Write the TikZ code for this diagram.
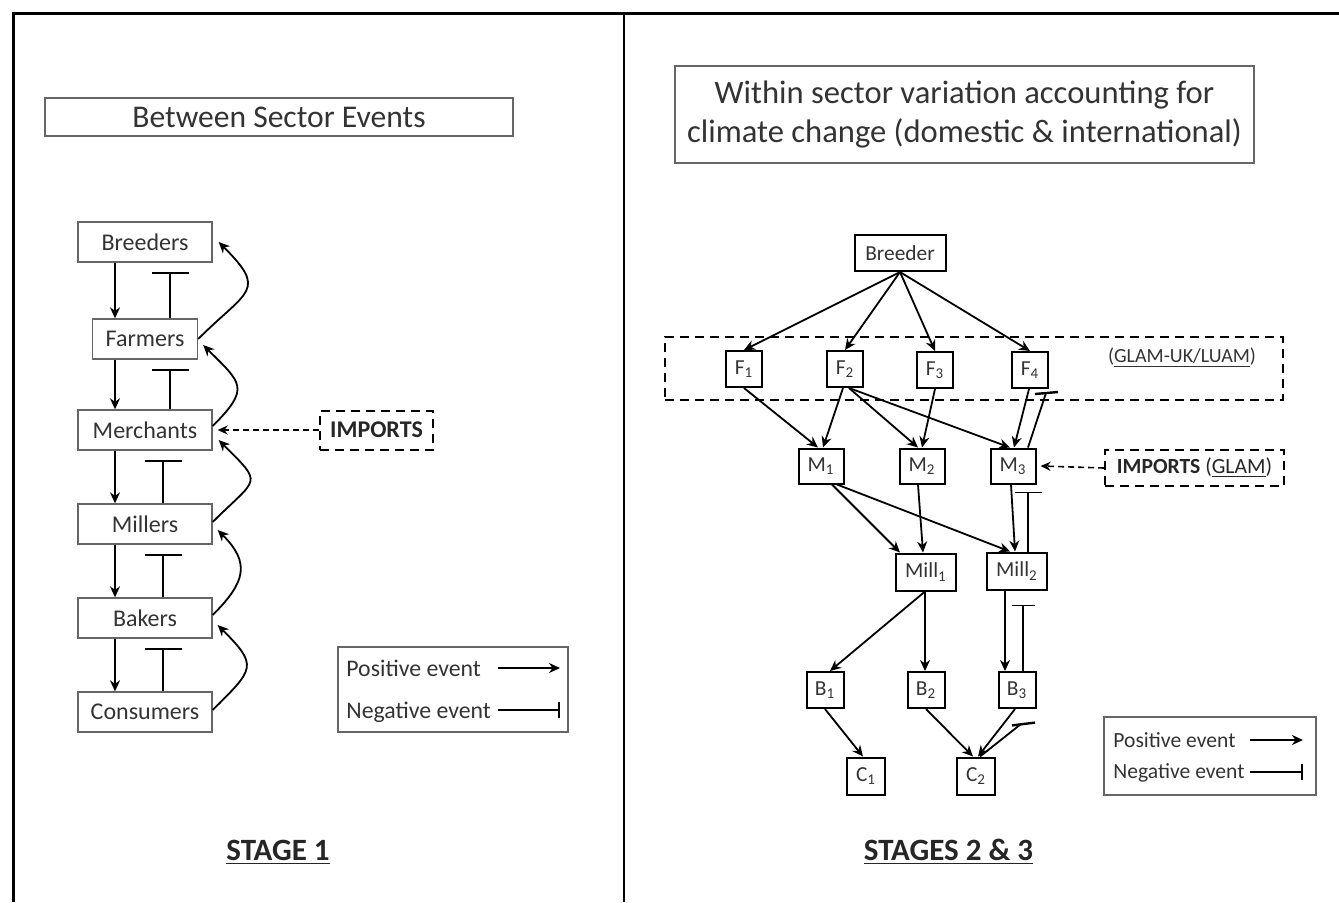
\documentclass[tikz,border=0pt]{standalone}
\usepackage{fontspec}
\setmainfont{Carlito}
\usetikzlibrary{arrows.meta}

\tikzset{
  lbox/.style={draw=black!60, line width=0.7pt, text=black!80, inner sep=0pt,
    minimum width=67pt, minimum height=20pt, font=\fontsize{12}{14}\selectfont},
  rbox/.style={draw, line width=1pt, text=black!80, inner sep=0pt,
    minimum width=18pt, minimum height=18pt, font=\fontsize{10.7}{12}\selectfont},
  arr/.style={line width=0.9pt, -{Stealth[length=5.5pt,width=5pt]}},
  inh/.style={line width=0.9pt, -{Bar[width=18.5pt]}},
  imparr/.style={line width=0.8pt, dash pattern=on 3pt off 2pt, -{Stealth[length=5pt,width=4.5pt]}},
  dashbox/.style={draw, line width=1pt, dash pattern=on 4.5pt off 3pt, inner sep=0pt},
  legtext/.style={anchor=west, inner sep=0pt, text=black!80},
}

\begin{document}
\begin{tikzpicture}[x=0.5pt, y=-0.5pt]
\useasboundingbox (0,0) rectangle (1339,902);

% frame
\draw[line width=1.5pt] (13,902) -- (13,13) -- (1339,13);
\draw[line width=1.2pt] (624,13) -- (624,902);

% ---------- stage 1 ----------
\node[draw=black!60, line width=0.7pt, minimum width=234pt, minimum height=19pt,
  text=black!80, font=\fontsize{15.8}{18}\selectfont] (Title1) at (279,117) {Between Sector Events};

\node[lbox] (Breeders) at (145,242) {Breeders};
\node[lbox, minimum width=52.5pt] (Farmers) at (145,339) {Farmers};
\node[lbox] (Merchants) at (145,430) {Merchants};
\node[lbox] (Millers) at (145,524) {Millers};
\node[lbox] (Bakers) at (145,618) {Bakers};
\node[lbox] (Consumers) at (145,712) {Consumers};

\foreach \a/\b in {Breeders/Farmers, Farmers/Merchants, Merchants/Millers, Millers/Bakers, Bakers/Consumers}
  \draw[arr] ([xshift=-15pt]\a.south) -- ([xshift=-15pt]\b.north);

\foreach \a/\b/\x in {Breeders/Farmers/12.5pt, Farmers/Merchants/12.5pt, Merchants/Millers/9pt, Millers/Bakers/9pt, Bakers/Consumers/9pt}
  \draw[inh] ([xshift=\x]\b.north) -- ([xshift=\x, yshift=-4.5pt]\a.south);

\draw[arr] (Farmers.east) to[out=45, in=-45, looseness=1.8] ([xshift=3pt]Breeders.east);
\draw[arr] ([yshift=2pt]Merchants.east) to[out=45, in=-45, looseness=1.7] ([xshift=2.5pt, yshift=-3pt]Farmers.east);
\draw[arr] ([yshift=1pt]Millers.east) to[out=45, in=-45, looseness=2] ([xshift=3pt, yshift=-5pt]Merchants.east);
\draw[arr] ([yshift=1.5pt]Bakers.east) to[out=45, in=-45, looseness=1.4] ([xshift=2.5pt, yshift=-3pt]Millers.east);
\draw[arr] ([yshift=1pt]Consumers.east) to[out=45, in=-45, looseness=1.75] ([xshift=2.5pt, yshift=-3.5pt]Bakers.east);

\node[dashbox, minimum width=56.5pt, minimum height=19.5pt, text=black!85,
  font=\fontsize{12}{14}\selectfont\bfseries] (Imports1) at (376.5,430) {IMPORTS};
\draw[imparr] (Imports1.west) -- ([xshift=2.5pt]Merchants.east);

\node[draw=black!60, line width=0.7pt, minimum width=115pt, minimum height=42.5pt] (Legend1) at (453,689.5) {};
\node[legtext, font=\fontsize{11.9}{14}\selectfont] (Pos1) at (346,668) {Positive event};
\node[legtext, font=\fontsize{11.9}{14}\selectfont] (Neg1) at (346,712) {Negative event};
\coordinate (p1a) at (498,668);
\coordinate (p1b) at (560,668);
\coordinate (n1a) at (498,710);
\coordinate (n1b) at (560,710);
\draw[arr] (p1a) -- (p1b);
\draw[line width=0.9pt, -{Bar[width=8pt]}] (n1a) -- (n1b);

\node[text=black!85, font=\fontsize{15.5}{18}\selectfont\bfseries] (Stage1) at (278,852) {\underline{STAGE 1}};

% ---------- stages 2 & 3 ----------
\node[draw=black!60, line width=0.7pt, minimum width=289.5pt, minimum height=48.5pt, align=center,
  text=black!80, font=\fontsize{16.3}{19.5}\selectfont] (Title2) at (964.5,114.5)
  {Within sector variation accounting for\\climate change (domestic \& international)};

\node[dashbox, minimum width=309pt, minimum height=31.5pt] (Glam) at (974,368.5) {};
\node[text=black!80, inner sep=0pt, font=\fontsize{10}{12}\selectfont] (GlamLabel) at (1182,358) {(\underline{GLAM-UK/LUAM})};

\node[rbox, minimum width=45.5pt] (Breeder) at (900,253) {Breeder};
\node[rbox] (F1) at (744,369) {F\textsubscript{1}};
\node[rbox] (F2) at (845,369) {F\textsubscript{2}};
\node[rbox] (F3) at (935,370) {F\textsubscript{3}};
\node[rbox] (F4) at (1030,370) {F\textsubscript{4}};
\node[rbox, minimum width=22.5pt, minimum height=17.5pt] (M1) at (821,466) {M\textsubscript{1}};
\node[rbox, minimum width=22.5pt, minimum height=17.5pt] (M2) at (922,466) {M\textsubscript{2}};
\node[rbox, minimum width=22.5pt, minimum height=17.5pt] (M3) at (1013,466) {M\textsubscript{3}};
\node[rbox, minimum width=30pt, minimum height=18.5pt] (Mill1) at (926,572) {Mill\textsubscript{1}};
\node[rbox, minimum width=30pt, minimum height=18.5pt] (Mill2) at (1017,571) {Mill\textsubscript{2}};
\node[rbox, minimum width=18.5pt] (B1) at (825,690) {B\textsubscript{1}};
\node[rbox, minimum width=18.5pt] (B2) at (926,690) {B\textsubscript{2}};
\node[rbox, minimum width=18.5pt] (B3) at (1017,690) {B\textsubscript{3}};
\node[rbox, minimum width=19pt, minimum height=18.5pt] (C1) at (866,776) {C\textsubscript{1}};
\node[rbox, minimum width=19pt, minimum height=18.5pt] (C2) at (976,776) {C\textsubscript{2}};

\foreach \f in {F1,F2,F3,F4}
  \draw[arr] (Breeder.south) -- (\f.north);

\draw[arr] (F1.south) -- ([xshift=-1.5pt]M1.north);
\draw[arr] ([xshift=-1pt]F2.south) -- ([xshift=1pt]M1.north);
\draw[arr] ([xshift=2pt]F2.south) -- ([xshift=-2pt]M2.north);
\draw[arr] ([xshift=2pt]F2.south) -- ([xshift=-1.5pt]M3.north);
\draw[arr] (F3.south) -- (M2.north);
\draw[arr] ([xshift=-0.5pt]F4.south) -- ([xshift=0.5pt]M3.north);
\coordinate (f4bar) at (1046,393);
\draw[line width=0.9pt] ([xshift=7.5pt]M3.north) -- (f4bar);
\draw[line width=1.2pt] ([xshift=-5.5pt, yshift=-0.5pt]f4bar) -- ([xshift=6pt, yshift=0.5pt]f4bar);

\draw[arr] ([xshift=5.5pt]M1.south) -- ([xshift=-13pt]Mill1.north);
\draw[arr] ([xshift=8pt]M1.south) -- ([xshift=-3.5pt]Mill2.north);
\draw[arr] ([xshift=-2pt]M2.south) -- ([xshift=-1.5pt]Mill1.north);
\draw[arr] ([xshift=-1pt]M3.south) -- ([xshift=-1pt]Mill2.north);
\draw[inh, -{Bar[width=13.5pt]}] ([xshift=5.5pt]Mill2.north) -- ([xshift=7.5pt, yshift=-3.5pt]M3.south);

\node[dashbox, minimum width=89.5pt, minimum height=18pt, text=black!85,
  font=\fontsize{10.8}{13}\selectfont] (Imports2) at (1194.5,468) {\textbf{IMPORTS} (\underline{GLAM})};
\draw[imparr] (Imports2.west) -- ([xshift=2pt]M3.east);

\draw[arr] ([xshift=-0.5pt]Mill1.south) -- ([xshift=2.5pt]B1.north);
\draw[arr] ([xshift=-0.5pt]Mill1.south) -- ([xshift=-0.5pt]B2.north);
\draw[arr] ([xshift=-6pt]Mill2.south) -- ([xshift=-6pt]B3.north);
\draw[inh, -{Bar[width=11.5pt]}] ([xshift=3pt]B3.north) -- ([xshift=3pt, yshift=-7pt]Mill2.south);

\draw[arr] (B1.south) -- ([xshift=-1.5pt]C1.north);
\draw[arr] (B2.south) -- ([xshift=-1.5pt]C2.north);
\draw[arr] ([xshift=-1pt]B3.south) -- ([xshift=1pt]C2.north);
\coordinate (c2bar) at (1021,724);
\draw[line width=0.9pt] ([xshift=2pt]C2.north) -- (c2bar);
\draw[line width=1.2pt] ([xshift=-4.5pt, yshift=-0.7pt]c2bar) -- ([xshift=7pt, yshift=0.7pt]c2bar);

\node[draw=black!60, line width=0.7pt, minimum width=106pt, minimum height=39pt] (Legend2) at (1210,756) {};
\node[legtext, font=\fontsize{10.8}{13}\selectfont] (Pos2) at (1113,740) {Positive event};
\node[legtext, font=\fontsize{10.8}{13}\selectfont] (Neg2) at (1113,773) {Negative event};
\coordinate (p2a) at (1250,740);
\coordinate (p2b) at (1303,740);
\coordinate (n2a) at (1250,772);
\coordinate (n2b) at (1303,772);
\draw[arr] (p2a) -- (p2b);
\draw[line width=0.9pt, -{Bar[width=8pt]}] (n2a) -- (n2b);

\node[text=black!85, font=\fontsize{15.5}{18}\selectfont\bfseries] (Stage2) at (948.5,852) {\underline{STAGES 2 \& 3}};
\end{tikzpicture}
\end{document}
